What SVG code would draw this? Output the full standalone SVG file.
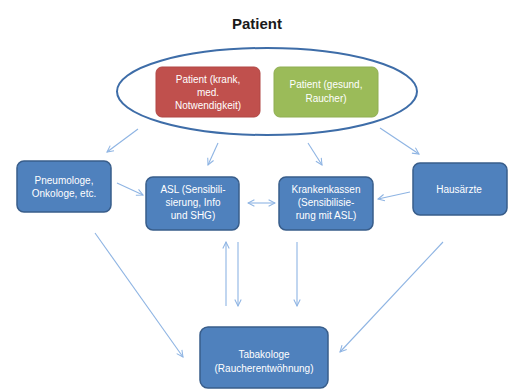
<svg xmlns="http://www.w3.org/2000/svg" width="512" height="389" viewBox="0 0 512 389">
<defs>
<marker id="ah" viewBox="0 0 10 10" refX="9" refY="5" markerWidth="8" markerHeight="8" orient="auto-start-reverse" markerUnits="userSpaceOnUse">
<path d="M1,1 L9,5 L1,9" fill="none" stroke="#8EB4E3" stroke-width="1.3"/>
</marker>
<style>
.box{fill:#4F81BD;stroke:#385D8A;stroke-width:1.5}
.t{font-family:"Liberation Sans",Arial,sans-serif;font-size:10px;fill:#ffffff;text-anchor:middle}
.c{stroke:#8EB4E3;stroke-width:1.1;fill:none;marker-end:url(#ah)}
</style>
</defs>
<rect width="512" height="389" fill="#ffffff"/>
<text x="257" y="29" font-family="Liberation Sans,Arial,sans-serif" font-size="15" font-weight="bold" fill="#1a1a1a" text-anchor="middle">Patient</text>
<g id="patients">
<ellipse cx="267" cy="91.5" rx="150" ry="43.5" fill="#ffffff" stroke="#3E6DA8" stroke-width="2"/>
<g id="krank">
<rect x="156" y="67" width="104" height="50" rx="6" fill="#C0504D" stroke="#B14744" stroke-width="1"/>
<text class="t" x="208" y="83">Patient (krank,</text>
<text class="t" x="208" y="96">med.</text>
<text class="t" x="208" y="109">Notwendigkeit)</text>
</g>
<g id="gesund">
<rect x="274" y="67" width="104" height="50" rx="6" fill="#9BBB59" stroke="#8FAE52" stroke-width="1"/>
<text class="t" x="326" y="88">Patient (gesund,</text>
<text class="t" x="326" y="102">Raucher)</text>
</g>
</g>
<g id="pneumologe">
<rect class="box" x="17" y="161" width="94" height="51" rx="7"/>
<text class="t" x="64" y="184">Pneumologe,</text>
<text class="t" x="64" y="197">Onkologe, etc.</text>
</g>
<g id="asl">
<rect class="box" x="146" y="177" width="93" height="53" rx="7"/>
<text class="t" x="193" y="193">ASL (Sensibili-</text>
<text class="t" x="193" y="206">sierung, Info</text>
<text class="t" x="193" y="219">und SHG)</text>
</g>
<g id="krankenkassen">
<rect class="box" x="279" y="177" width="94" height="53" rx="7"/>
<text class="t" x="326" y="193">Krankenkassen</text>
<text class="t" x="326" y="206">(Sensibilisie-</text>
<text class="t" x="326" y="219">rung mit ASL)</text>
</g>
<g id="hausaerzte">
<rect class="box" x="413" y="163" width="94" height="52" rx="7"/>
<text class="t" x="459" y="193">Hausärzte</text>
</g>
<g id="tabakologe">
<rect class="box" x="200" y="327" width="128" height="61" rx="8"/>
<text class="t" x="264" y="358">Tabakologe</text>
<text class="t" x="264" y="372">(Raucherentwöhnung)</text>
</g>
<g id="connectors">
<line class="c" x1="138" y1="129" x2="107" y2="152"/>
<line class="c" x1="218" y1="143" x2="208" y2="165"/>
<line class="c" x1="308" y1="143" x2="322" y2="165"/>
<line class="c" x1="380" y1="128" x2="419" y2="154"/>
<line class="c" x1="117" y1="183" x2="143" y2="195"/>
<line class="c" x1="248" y1="203" x2="275" y2="203" marker-start="url(#ah)"/>
<line class="c" x1="410" y1="192" x2="378" y2="199"/>
<line class="c" x1="226" y1="306" x2="226" y2="242"/>
<line class="c" x1="238" y1="242" x2="238" y2="306"/>
<line class="c" x1="297" y1="242" x2="297" y2="306"/>
<line class="c" x1="95" y1="233" x2="183" y2="357"/>
<line class="c" x1="443" y1="242" x2="340" y2="352"/>
</g>
</svg>
